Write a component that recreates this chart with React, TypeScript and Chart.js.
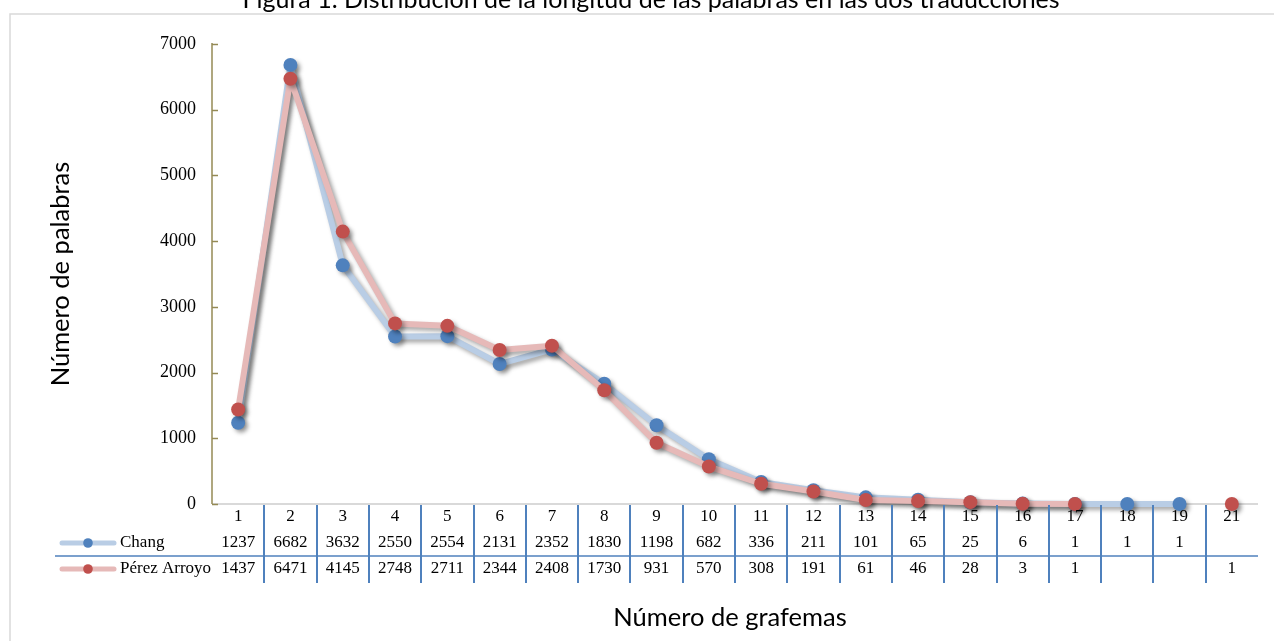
import React, { useEffect, useRef } from "react";
import { Chart, registerables } from "chart.js";
Chart.register(...registerables);

const titleText = "Figura 1. Distribución de la longitud de las palabras en las dos traducciones";
const yTitle = "Número de palabras";
const xTitle = "Número de grafemas";
const categories = ["1", "2", "3", "4", "5", "6", "7", "8", "9", "10", "11", "12", "13", "14", "15", "16", "17", "18", "19", "21"];
const seriesNames = ["Chang", "Pérez Arroyo"];
const changValues: (number | null)[] = [1237, 6682, 3632, 2550, 2554, 2131, 2352, 1830, 1198, 682, 336, 211, 101, 65, 25, 6, 1, 1, 1, null];
const perezValues: (number | null)[] = [1437, 6471, 4145, 2748, 2711, 2344, 2408, 1730, 931, 570, 308, 191, 61, 46, 28, 3, 1, null, null, 1];
const yMin = 0;
const yMax = 7000;
const yStep = 1000;

const lineColors = ["#b9cde5", "#e6b9b8"];
const pointColors = ["#4f81bd", "#c0504d"];
const SERIF = "'Liberation Serif', 'Times New Roman', serif";
const SANS = "Lato, 'Open Sans', sans-serif";

const tablePlugin = {
  id: "tablePlugin",
  beforeDraw(chart: any) {
    const { ctx, width, height } = chart;
    ctx.save();
    ctx.fillStyle = "#ffffff";
    ctx.fillRect(0, 0, width, height);
    ctx.strokeStyle = "#d9d9d9";
    ctx.lineWidth = 1.5;
    ctx.strokeRect(10, 14, width + 20, height + 20);
    ctx.fillStyle = "#000000";
    ctx.font = `25px ${SANS}`;
    ctx.textAlign = "center";
    ctx.textBaseline = "alphabetic";
    ctx.fillText(titleText, 651, 7.5);
    ctx.restore();
  },
  beforeDatasetsDraw(chart: any) {
    const { ctx, chartArea, scales } = chart;
    const y = scales.y;
    ctx.save();
    ctx.strokeStyle = "#d9d9d9";
    ctx.lineWidth = 2;
    ctx.beginPath();
    ctx.moveTo(chartArea.left, chartArea.bottom);
    ctx.lineTo(chartArea.right, chartArea.bottom);
    ctx.stroke();
    ctx.strokeStyle = "#948a54";
    ctx.lineWidth = 1.5;
    ctx.beginPath();
    ctx.moveTo(chartArea.left, chartArea.top - 1);
    ctx.lineTo(chartArea.left, chartArea.bottom);
    ctx.stroke();
    for (let v = yMin; v <= yMax; v += yStep) {
      const py = Math.round(y.getPixelForValue(v)) + 0.5;
      ctx.beginPath();
      ctx.moveTo(chartArea.left, py);
      ctx.lineTo(chartArea.left + 6, py);
      ctx.stroke();
    }
    ctx.restore();
  },
  beforeDatasetDraw(chart: any) {
    const ctx = chart.ctx;
    ctx.save();
    ctx.shadowColor = "rgba(0,0,0,0.35)";
    ctx.shadowBlur = 4;
    ctx.shadowOffsetX = 3;
    ctx.shadowOffsetY = 3;
  },
  afterDatasetDraw(chart: any) {
    chart.ctx.restore();
  },
  afterDraw(chart: any) {
    const { ctx, chartArea, scales } = chart;
    const x = scales.x;
    const bottom = chartArea.bottom;
    ctx.save();
    ctx.strokeStyle = "#4f81bd";
    ctx.lineWidth = 2;
    for (let k = 1; k < categories.length; k++) {
      const px = Math.round((x.getPixelForValue(k - 1) + x.getPixelForValue(k)) / 2);
      ctx.beginPath();
      ctx.moveTo(px, bottom + 1);
      ctx.lineTo(px, bottom + 79);
      ctx.stroke();
    }
    ctx.lineWidth = 1.5;
    ctx.beginPath();
    ctx.moveTo(55, bottom + 52);
    ctx.lineTo(chartArea.right, bottom + 52);
    ctx.stroke();

    ctx.fillStyle = "#000000";
    ctx.font = `17px ${SERIF}`;
    ctx.textAlign = "center";
    ctx.textBaseline = "middle";
    const rows = [changValues, perezValues];
    const rowY = [bottom + 39, bottom + 65];
    categories.forEach((c, i) => {
      const px = x.getPixelForValue(i);
      ctx.fillText(c, px, bottom + 13);
      rows.forEach((r, ri) => {
        const v = r[i];
        if (v !== null && v !== undefined) ctx.fillText(String(v), px, rowY[ri]);
      });
    });

    seriesNames.forEach((name, ri) => {
      const ly = rowY[ri];
      ctx.strokeStyle = lineColors[ri];
      ctx.lineWidth = 5;
      ctx.lineCap = "round";
      ctx.beginPath();
      ctx.moveTo(62, ly);
      ctx.lineTo(114, ly);
      ctx.stroke();
      ctx.fillStyle = pointColors[ri];
      ctx.beginPath();
      ctx.arc(88, ly, 4.8, 0, Math.PI * 2);
      ctx.fill();
      ctx.fillStyle = "#000000";
      ctx.textAlign = "left";
      ctx.fillText(name, 120, ly);
    });

    ctx.font = `25.5px ${SANS}`;
    ctx.textAlign = "center";
    ctx.textBaseline = "middle";
    ctx.fillText(xTitle, 730, 618);
    ctx.save();
    ctx.translate(61, 274);
    ctx.rotate(-Math.PI / 2);
    ctx.fillText(yTitle, 0, 0);
    ctx.restore();
    ctx.restore();
  },
};

export default function App() {
  const ref = useRef<HTMLCanvasElement | null>(null);
  useEffect(() => {
    if (!ref.current) return;
    const mk = (i: number, data: (number | null)[], order: number) => ({
      label: seriesNames[i],
      data,
      borderColor: lineColors[i],
      backgroundColor: pointColors[i],
      pointBackgroundColor: pointColors[i],
      pointBorderColor: pointColors[i],
      borderWidth: 6,
      pointRadius: 7,
      pointBorderWidth: 0,
      tension: 0,
      spanGaps: false,
      clip: false as any,
      order,
      borderJoinStyle: "round" as const,
      borderCapStyle: "round" as const,
    });
    const chart = new Chart(ref.current, {
      type: "line",
      data: {
        labels: categories,
        datasets: [mk(0, changValues, 1), mk(1, perezValues, 0)],
      },
      options: {
        animation: false,
        responsive: true,
        maintainAspectRatio: false,
        layout: { padding: { top: 44, right: 16, left: 0, bottom: 0 } },
        plugins: { legend: { display: false }, tooltip: { enabled: false }, title: { display: false } },
        scales: {
          x: {
            type: "category",
            offset: true,
            grid: { display: false, drawTicks: false },
            border: { display: false },
            ticks: { display: false },
            afterFit: (s: any) => {
              s.height = 137;
            },
          },
          y: {
            min: yMin,
            max: yMax,
            grid: { display: false, drawTicks: false },
            border: { display: false },
            ticks: {
              stepSize: yStep,
              padding: 16,
              color: "#000000",
              font: { family: SERIF, size: 18 },
              callback: (v: any) => String(v),
            },
            afterFit: (s: any) => {
              s.width = 212;
            },
          },
        },
      },
      plugins: [tablePlugin],
    });
    return () => chart.destroy();
  }, []);
  return (
    <div style={{ position: "fixed", left: 0, top: 0, width: 1274, height: 641 }}>
      <canvas ref={ref} />
    </div>
  );
}
